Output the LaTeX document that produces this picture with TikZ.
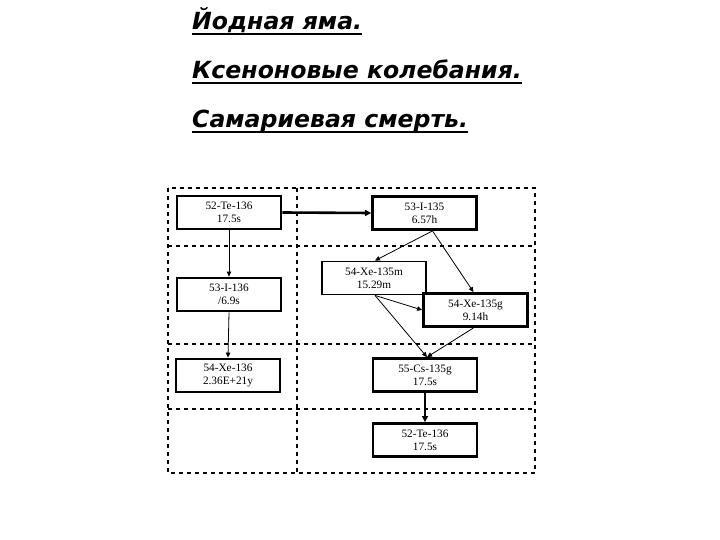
\documentclass[tikz,border=0pt]{standalone}
\usepackage{fontspec}
\setmainfont{Liberation Serif}
\newfontfamily\titlefont{DejaVu Sans}
\usetikzlibrary{arrows.meta}
\begin{document}
\begin{tikzpicture}[x=1pt,y=-1pt,
  grid/.style={line width=2.2pt,dash pattern=on 4pt off 4pt},
  nuc/.style={draw,line width=2.8pt,minimum width=104pt,minimum height=33pt,inner sep=0pt,align=center,font=\fontsize{11.3}{13}\selectfont},
  nucthin/.style={nuc,line width=1.8pt},
  thin/.style={line width=0.8pt,-{Triangle[length=5pt,width=4.5pt]}},
  thick/.style={line width=2.6pt,-{Triangle[length=6pt,width=6pt]}},
  ttl/.style={anchor=base west,inner sep=0pt,font=\titlefont\bfseries\itshape\fontsize{23.6}{28}\selectfont}]
\useasboundingbox (0,0) rectangle (720,540);
% titles
\node[ttl] (t1) at (192,30) {Йодная яма.};
\node[ttl] (t2) at (192,79) {Ксеноновые колебания.};
\node[ttl] (t3) at (192,128) {Самариевая смерть.};
\foreach \t in {t1,t2,t3}
  \draw[line width=2pt] ([yshift=-4pt]\t.base west) -- ([yshift=-4pt]\t.base east);
% grid
\draw[grid] (168,188) rectangle (535,473);
\draw[grid] (297,188) -- (297,473);
\draw[grid] (168,246) -- (535,246);
\draw[grid] (168,344) -- (535,344);
\draw[grid] (168,409) -- (535,409);
% nodes
\node[nuc] (te1) at (229,212.5) {52-Te-136\\17.5s};
\node[nuc] (i136) at (229,294.5) {53-I-136\\/6.9s};
\node[nuc] (xe136) at (228,375.5) {54-Xe-136\\2.36E+21y};
\node[nuc] (i135) at (424.5,213) {53-I-135\\6.57h};
\node[nucthin] (xe135m) at (374,278) {54-Xe-135m\\15.29m};
\node[nuc] (xe135g) at (475.5,310) {54-Xe-135g\\9.14h};
\node[nuc] (cs) at (425,375) {55-Cs-135g\\17.5s};
\node[nuc] (te2) at (425,440) {52-Te-136\\17.5s};
% connectors
\draw[thick] (te1.east) -- (i135.west);
\draw[thin] (te1.south) -- (i136.north);
\draw[thin] (i136.south) -- (xe136.north);
\draw[thin] ([xshift=8pt]i135.south) -- ([xshift=1pt]xe135m.north);
\draw[thin] ([xshift=8pt]i135.south) -- ([xshift=-2pt]xe135g.north);
\draw[thin] ([xshift=1pt]xe135m.south) -- (xe135g.west);
\draw[thin] ([xshift=1pt]xe135m.south) -- ([xshift=2pt]cs.north);
\draw[thin] ([xshift=-2pt]xe135g.south) -- ([xshift=2pt]cs.north);
\draw[thick] (cs.south) -- (te2.north);
\end{tikzpicture}
\end{document}
